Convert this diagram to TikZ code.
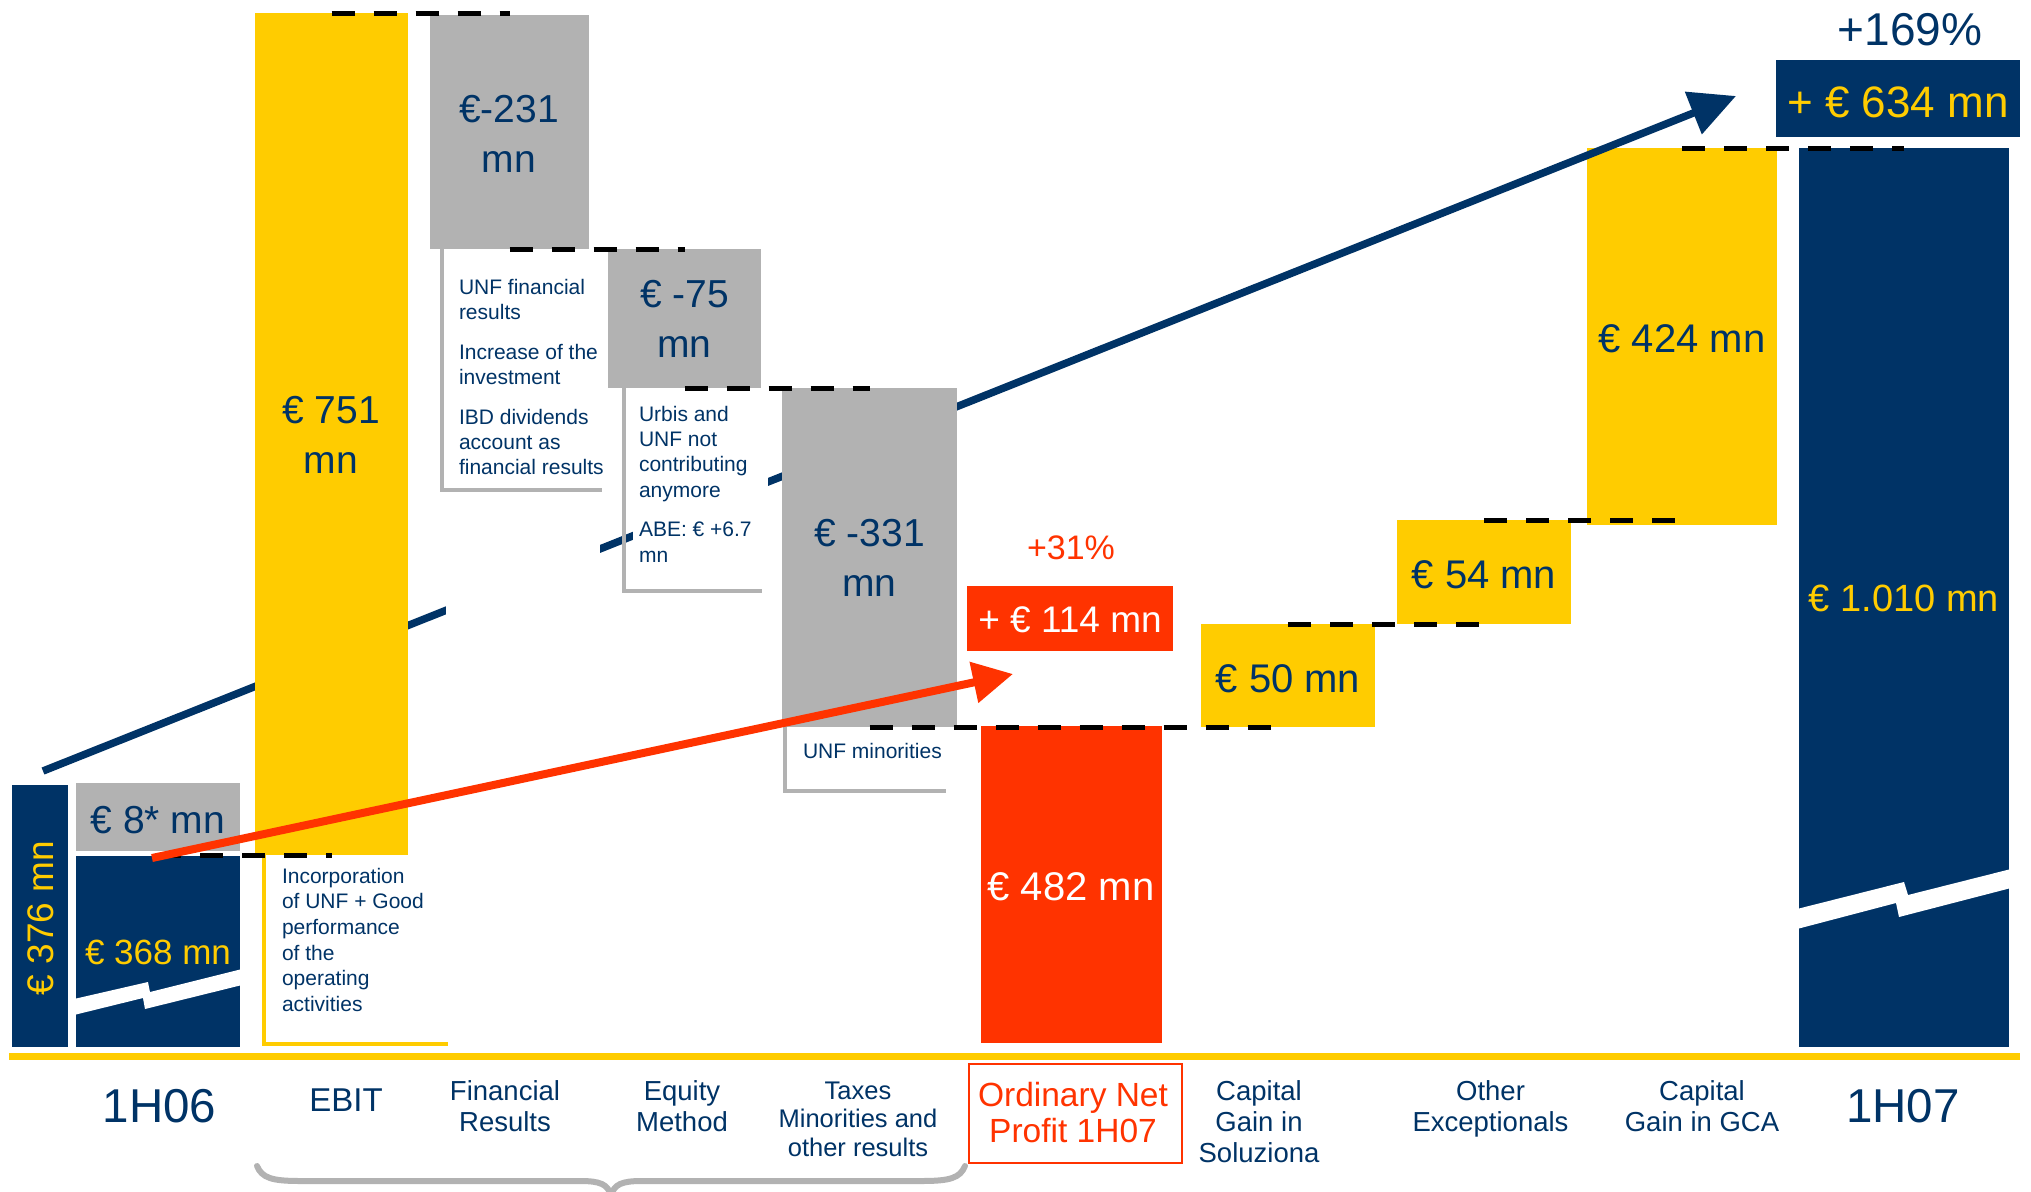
\documentclass[tikz,border=0pt]{standalone}
\usepackage{fontspec}
\setmainfont{Liberation Sans}
\usetikzlibrary{arrows.meta}
\definecolor{navy}{RGB}{0,51,102}
\definecolor{gold}{RGB}{255,204,0}
\definecolor{grayb}{RGB}{178,178,178}
\definecolor{redb}{RGB}{255,51,0}
\newcommand\fsz[2]{\fontsize{#1}{#2}\selectfont}
\begin{document}
\begin{tikzpicture}[x=1pt,y=-1pt,
  every node/.style={inner sep=0pt,outer sep=0pt},
  barbox/.style={anchor=north west,inner sep=0pt,draw=none},
  valtxt/.style={font=\fsz{39}{50},align=center,anchor=north,text=navy},
  notetxt/.style={font=\fsz{21}{25},align=left,anchor=north west,text=navy},
  cattxt/.style={font=\fsz{27.5}{31},align=center,anchor=north,text=navy},
  dashln/.style={line width=5pt,dash pattern=on 23pt off 19pt,black},
  bracketg/.style={grayb,line width=4pt},
]
\useasboundingbox (0,0) rectangle (2031,1191);
\fill[white] (0,0) rectangle (2031,1191);

% yellow bar behind the navy trend line
\node[barbox,fill=gold,minimum width=190pt,minimum height=377pt] (p424) at (1587,148) {};

% navy trend arrow
\coordinate (nstart) at (43,771);
\coordinate (ntip) at (1736,96);
\draw[navy,line width=7.5pt,-{Triangle[length=46pt,width=44pt]}] (nstart) -- (ntip);

% white areas of the note boxes
\fill[white] (446,255) rectangle (600,622);
\fill[white] (633,395) rectangle (768,588);

% note brackets
\draw[bracketg] (442,249) -- (442,490) -- (602,490);
\draw[bracketg] (624,388) -- (624,591) -- (762,591);
\draw[bracketg] (785,727) -- (785,791) -- (946,791);
\draw[gold,line width=4pt] (264,855) -- (264,1044) -- (448,1044);

% bars
\node[barbox,fill=navy,minimum width=56pt,minimum height=262pt] (b376) at (12,785) {};
\node[barbox,fill=grayb,minimum width=164pt,minimum height=68pt] (b8) at (76,783) {};
\node[barbox,fill=navy,minimum width=164pt,minimum height=191pt] (b368) at (76,856) {};
\node[barbox,fill=gold,minimum width=153pt,minimum height=842pt] (ebit) at (255,13) {};
\node[barbox,fill=grayb,minimum width=159pt,minimum height=234pt] (m231) at (430,15) {};
\node[barbox,fill=grayb,minimum width=153pt,minimum height=139pt] (m75) at (608,249) {};
\node[barbox,fill=grayb,minimum width=175pt,minimum height=339pt] (m331) at (782,388) {};
\node[barbox,fill=redb,minimum width=181pt,minimum height=317pt] (onp) at (981,726) {};
\node[barbox,fill=redb,minimum width=206pt,minimum height=65pt] (p114) at (967,586) {};
\node[barbox,fill=gold,minimum width=174pt,minimum height=103pt] (p50) at (1201,624) {};
\node[barbox,fill=gold,minimum width=174pt,minimum height=104pt] (p54) at (1397,520) {};
\node[barbox,fill=navy,minimum width=210pt,minimum height=899pt] (b1010) at (1799,148) {};
\node[barbox,fill=navy,minimum width=244pt,minimum height=77pt] (p634) at (1776,60) {};

% axis breaks
\fill[white] (74,999) -- (148,982) -- (150,992) -- (242,969) -- (242,985) -- (145,1009) -- (143,998) -- (74,1015) -- cycle;
\fill[white] (1797,909) -- (1904,882) -- (1908,895) -- (2011,869) -- (2011,888) -- (1899,917) -- (1896,903) -- (1797,929) -- cycle;

% dashed step connectors
\draw[dashln] (ebit.south -| b368.north) -- (ebit.south);
\draw[dashln] (ebit.north) -- (ebit.north -| m231.north);
\draw[dashln] (m231.south) -- (m231.south -| m75.north);
\draw[dashln] (m75.south) -- (m75.south -| m331.north);
\draw[dashln] (m331.south) -- (m331.south -| p50.south);
\draw[dashln] (p50.north) -- (p50.north -| p54.north);
\draw[dashln] (p54.north) -- (p54.north -| p424.north);
\draw[dashln] (p424.north) -- (p424.north -| b1010.north);

% values
\node[rotate=90,anchor=base,text=gold,font=\fsz{37}{40}] (t376) at (53,918) {€ 376 mn};
\node[anchor=base,text=navy,font=\fsz{39}{45}] (t8) at (158,833) {€ 8* mn};
\node[anchor=base,text=gold,font=\fsz{35}{40}] (t368) at (158,964) {€ 368 mn};
\node[valtxt] (t751) at (331,396) {€ 751\\mn};
\node[valtxt] (t231) at (509,95) {€-231\\mn};
\node[valtxt] (t75) at (684.5,280) {€ -75\\mn};
\node[valtxt] (t331) at (869.5,519) {€ -331\\mn};
\node[anchor=base,text=white,font=\fsz{40}{45}] (t482) at (1071,900) {€ 482 mn};
\node[anchor=base,text=white,font=\fsz{37}{42}] (t114) at (1070,632) {+ € 114 mn};
\node[anchor=base,text=redb,font=\fsz{34}{40}] (t31) at (1071,559) {+31\%};
\node[anchor=base,text=navy,font=\fsz{40}{45}] (t50) at (1288,692) {€ 50 mn};
\node[anchor=base,text=navy,font=\fsz{40}{45}] (t54) at (1484,588) {€ 54 mn};
\node[anchor=base,text=navy,font=\fsz{40}{45}] (t424) at (1682,352) {€ 424 mn};
\node[anchor=base,text=gold,font=\fsz{38}{45}] (t1010) at (1904,611) {€ 1.010 mn};
\node[anchor=base,text=gold,font=\fsz{44}{50}] (t634) at (1898,117) {+ € 634 mn};
\node[anchor=base,text=navy,font=\fsz{46}{50}] (t169) at (1910,45) {+169\%};

% notes
\node[notetxt] (nfin) at (459,279) {UNF financial\\results\\[15pt]Increase of the\\investment\\[15pt]IBD dividends\\account as\\financial results};
\node[notetxt,font=\fsz{21}{25.3}] (nurb) at (639,406) {Urbis and\\UNF not\\contributing\\anymore\\[14.5pt]ABE: € +6.7\\mn};
\node[notetxt,font=\fsz{21}{25.6}] (ninc) at (282,868) {Incorporation\\of UNF + Good\\performance\\of the\\operating\\activities};
\node[anchor=base west,text=navy,font=\fsz{21}{25}] (nmin) at (803,758) {UNF minorities};

% red trend arrow
\coordinate (rstart) at (152,858);
\coordinate (rtip) at (1013,674);
\draw[redb,line width=8pt,-{Triangle[length=40pt,width=40pt]}] (rstart) -- (rtip);

% baseline
\fill[gold] (9,1053) rectangle (2020,1060);

% category labels
\node[anchor=base,text=navy,font=\fsz{47.5}{50}] (c1h06) at (159.5,1122) {1H06};
\node[anchor=base,text=navy,font=\fsz{33}{36}] (cebit) at (346,1111) {EBIT};
\node[cattxt] (cfin) at (505,1081) {Financial\\Results};
\node[cattxt] (ceq) at (682,1081) {Equity\\Method};
\node[cattxt,font=\fsz{25.5}{28.5}] (ctax) at (858,1081.5) {Taxes\\Minorities and\\other results};
\node[barbox,draw=redb,line width=2pt,minimum width=213pt,minimum height=99pt] (ordbox) at (969,1064) {};
\node[anchor=north,align=center,text=redb,font=\fsz{33.5}{36}] (cord) at (1073,1082.5) {Ordinary Net\\Profit 1H07};
\node[cattxt] (csol) at (1259,1081) {Capital\\Gain in\\Soluziona};
\node[cattxt] (coth) at (1490.5,1081) {Other\\Exceptionals};
\node[cattxt] (cgca) at (1702,1081) {Capital\\Gain in GCA};
\node[anchor=base,text=navy,font=\fsz{47.5}{50}] (c1h07) at (1903,1122) {1H07};

% brace
\draw[grayb,line width=6pt,line cap=round] (257,1166) .. controls (262,1178) and (272,1181) .. (300,1181) -- (580,1181) .. controls (600,1181) and (608,1184) .. (611,1196);
\draw[grayb,line width=6pt,line cap=round] (965,1166) .. controls (960,1178) and (950,1181) .. (922,1181) -- (642,1181) .. controls (622,1181) and (614,1184) .. (611,1196);
\end{tikzpicture}
\end{document}
